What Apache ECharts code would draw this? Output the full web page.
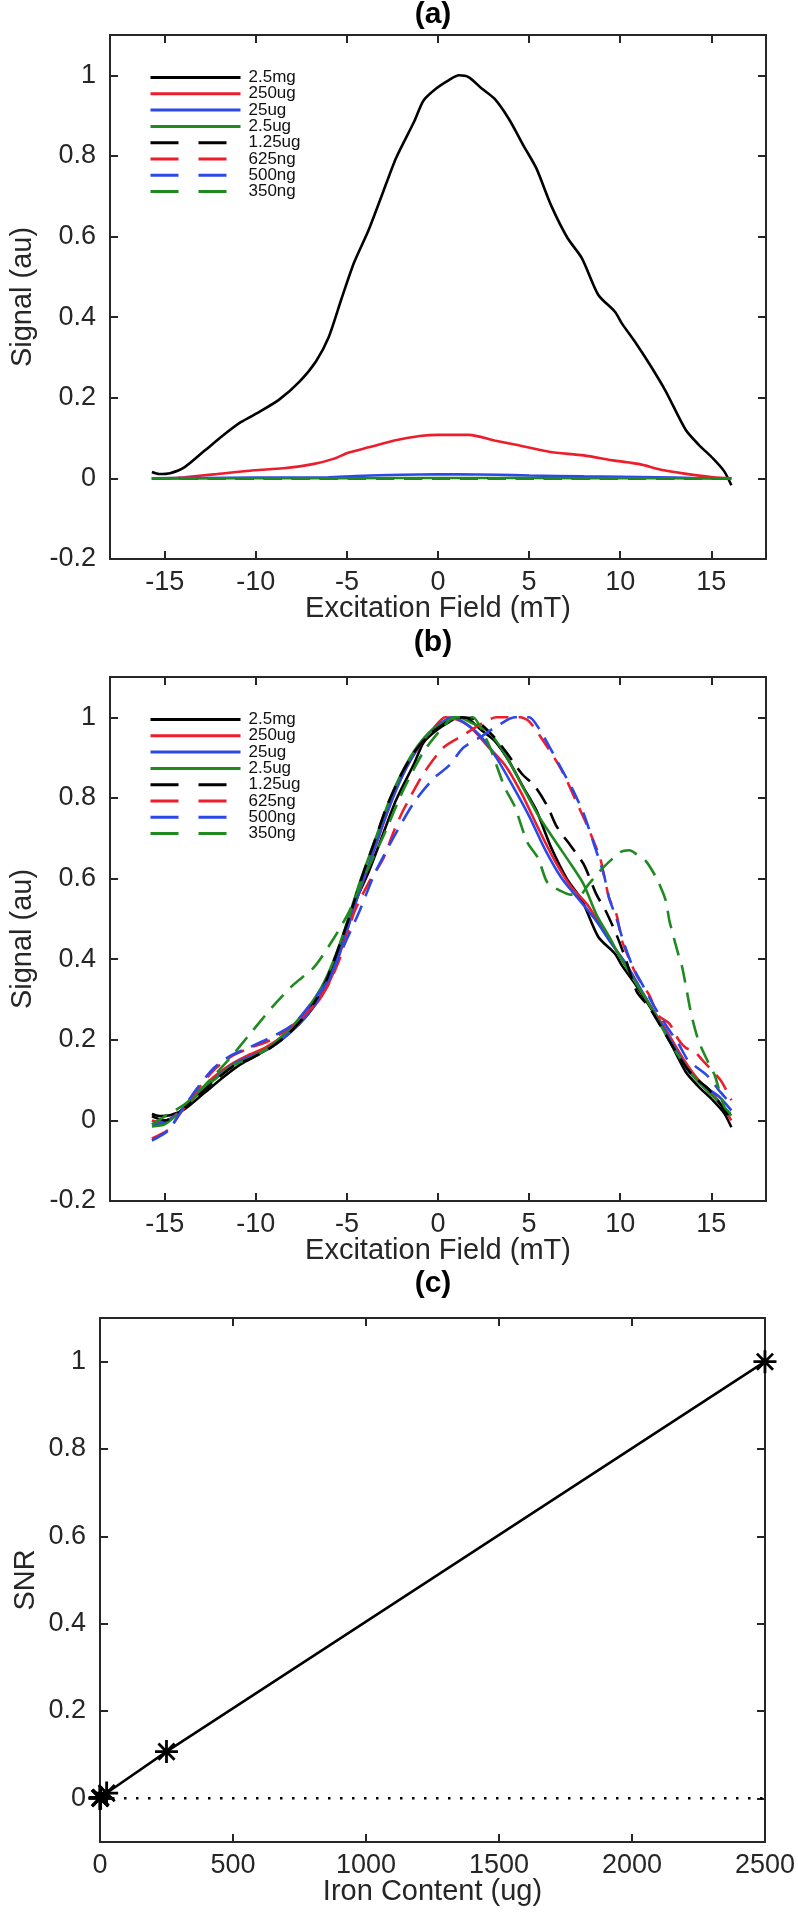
<!DOCTYPE html>
<html>
<head>
<meta charset="utf-8">
<script src="https://cdn.jsdelivr.net/npm/echarts@6/dist/echarts.min.js"></script>
<style>
html,body{margin:0;padding:0;background:#fff;}
#chart{width:798px;height:1914px;}
</style>
</head>
<body>
<div id="chart"></div>
<script>
// ---------- DATA ----------
var seriesNames = ['2.5mg','250ug','25ug','2.5ug','1.25ug','625ng','500ng','350ng'];
var seriesColors = ['#000000','#ee1d2c','#2b48e8','#1f8a1f','#000000','#ee1d2c','#2b48e8','#1f8a1f'];
var seriesDashed = [false,false,false,false,true,true,true,true];
var fieldTicks = [-15,-10,-5,0,5,10,15];
var signalTicks = [-0.2,0,0.2,0.4,0.6,0.8,1];
var snrTicks = [0,0.2,0.4,0.6,0.8,1];
var ironTicks = [0,500,1000,1500,2000,2500];

// panel (a) / (b): 2.5mg (max = 1, identical raw & normalized)
var sig2p5mg = [[-15.7,0.016],[-15.3,0.011],[-14.7,0.013],[-13.9,0.028],[-12.8,0.069],[-11.7,0.11],[-10.8,0.14],[-9.8,0.165],[-8.7,0.196],[-7.6,0.24],[-6.7,0.29],[-6.0,0.35],[-5.3,0.445],[-4.6,0.536],[-3.8,0.617],[-3.1,0.70],[-2.3,0.795],[-1.3,0.886],[-0.8,0.937],[-0.1,0.967],[0.6,0.988],[1.15,1.0],[1.7,0.995],[2.4,0.967],[3.1,0.942],[3.9,0.891],[4.7,0.825],[5.4,0.769],[6.2,0.678],[7.1,0.597],[7.9,0.546],[8.8,0.455],[9.7,0.414],[10.1,0.384],[10.9,0.333],[11.7,0.277],[12.5,0.216],[13.6,0.12],[14.3,0.084],[15.1,0.049],[15.7,0.018],[16.1,-0.017]];

// panel (a): raw signals of the smaller samples
var raw250ug = [[-15.7,0],[-14.5,0.001],[-13.9,0.003],[-12.3,0.01],[-10.1,0.02],[-8.5,0.025],[-6.8,0.036],[-5.7,0.049],[-4.9,0.064],[-3.8,0.077],[-2.4,0.094],[-1.0,0.105],[0.05,0.108],[1.7,0.108],[3.1,0.094],[4.2,0.084],[6.1,0.066],[8.0,0.057],[9.7,0.044],[11.0,0.036],[12.4,0.02],[14.1,0.008],[15.1,0.003],[16.1,0]];
var raw25ug = [[-15.7,0],[-13,0.001],[-10,0.002],[-6,0.003],[-4.5,0.006],[-2,0.009],[0,0.01],[1,0.01],[3.3,0.009],[5,0.007],[8,0.005],[10,0.004],[12,0.003],[14,0.001],[16.1,0]];
var raw2p5ug = [[-15.7,0],[-5,0.0005],[1,0.001],[8,0.0005],[16.1,0]];
var raw1p25ug = [[-15.7,0],[1.5,0.0005],[16.1,0]];
var raw625ng = [[-15.7,0],[3.5,0.0003],[16.1,0]];
var raw500ng = [[-15.7,0],[4.5,0.0002],[16.1,0]];
var raw350ng = [[-15.7,0],[1,0.0001],[16.1,0]];

// panel (b): normalized signals
var nrm250ug = [[-15.7,0.0],[-15.2,-0.005],[-14.5,0.01],[-13.5,0.05],[-12.5,0.10],[-11.5,0.135],[-10.5,0.16],[-9.5,0.18],[-8.5,0.21],[-7.5,0.25],[-6.5,0.30],[-5.8,0.36],[-5.2,0.44],[-4.6,0.53],[-3.9,0.62],[-3.2,0.71],[-2.5,0.80],[-1.8,0.87],[-1.0,0.93],[-0.3,0.97],[0.4,1.0],[1.0,0.995],[1.8,0.975],[2.7,0.93],[3.7,0.88],[4.6,0.81],[5.5,0.725],[6.4,0.645],[7.3,0.58],[8.2,0.535],[9.1,0.47],[9.8,0.42],[10.5,0.37],[11.5,0.295],[12.5,0.225],[13.5,0.15],[14.3,0.1],[15.2,0.06],[16.1,0.0]];
var nrm25ug = [[-15.7,-0.01],[-15.0,-0.005],[-14.2,0.02],[-13.2,0.065],[-12.2,0.105],[-11.2,0.14],[-10.2,0.16],[-9.2,0.18],[-8.2,0.215],[-7.2,0.26],[-6.3,0.32],[-5.6,0.39],[-5.0,0.47],[-4.3,0.57],[-3.6,0.66],[-2.9,0.75],[-2.1,0.84],[-1.3,0.91],[-0.5,0.96],[0.3,0.99],[0.8,1.0],[1.5,0.985],[2.3,0.955],[3.2,0.9],[4.1,0.83],[5.0,0.755],[5.9,0.67],[6.8,0.6],[7.7,0.55],[8.6,0.5],[9.5,0.44],[10.3,0.39],[11.2,0.32],[12.1,0.25],[13.0,0.18],[13.8,0.12],[14.6,0.085],[15.4,0.06],[16.1,0.025]];
var nrm2p5ug = [[-15.7,-0.015],[-15.0,-0.01],[-14.3,0.015],[-13.3,0.06],[-12.3,0.1],[-11.3,0.135],[-10.3,0.155],[-9.3,0.18],[-8.3,0.22],[-7.3,0.27],[-6.4,0.33],[-5.7,0.40],[-5.0,0.49],[-4.3,0.59],[-3.5,0.69],[-2.7,0.79],[-1.9,0.87],[-1.1,0.93],[-0.3,0.97],[0.5,0.99],[1.1,1.0],[1.9,0.985],[2.75,0.965],[3.66,0.91],[4.56,0.835],[5.46,0.76],[6.4,0.695],[7.3,0.635],[8.0,0.585],[8.7,0.51],[9.4,0.455],[10.0,0.405],[10.8,0.345],[11.7,0.28],[12.6,0.205],[13.5,0.14],[14.4,0.09],[15.3,0.05],[16.1,0.012]];
var nrm1p25ug = [[-15.7,0.01],[-15.0,0.0],[-14.2,0.02],[-13.2,0.06],[-12.2,0.1],[-11.2,0.135],[-10.2,0.155],[-9.2,0.18],[-8.2,0.215],[-7.2,0.265],[-6.3,0.33],[-5.6,0.41],[-4.9,0.5],[-4.2,0.6],[-3.5,0.69],[-2.8,0.78],[-2.0,0.86],[-1.2,0.92],[-0.4,0.96],[0.4,0.985],[1.0,1.0],[2.0,0.995],[3.1,0.95],[3.8,0.91],[4.6,0.86],[5.3,0.83],[6.0,0.78],[6.5,0.73],[7.3,0.68],[8.0,0.635],[8.7,0.56],[9.2,0.52],[9.8,0.46],[10.3,0.40],[10.9,0.32],[11.6,0.28],[12.4,0.22],[13.2,0.16],[14.0,0.11],[14.8,0.08],[15.5,0.04],[16.1,0.0]];
var nrm625ng = [[-15.7,-0.045],[-14.8,-0.023],[-14.2,0.014],[-13.3,0.07],[-12.3,0.125],[-11.3,0.16],[-10.3,0.18],[-9.3,0.197],[-8.3,0.225],[-7.5,0.255],[-6.8,0.286],[-6.1,0.33],[-5.4,0.40],[-4.6,0.516],[-3.8,0.59],[-3.0,0.65],[-2.4,0.72],[-1.9,0.77],[-0.8,0.86],[0.3,0.925],[1.4,0.956],[2.5,0.987],[3.2,1.0],[4.5,1.0],[5.0,0.99],[5.8,0.94],[6.7,0.876],[7.1,0.84],[7.8,0.77],[8.2,0.73],[8.9,0.65],[9.1,0.61],[9.4,0.55],[9.8,0.51],[10.1,0.445],[10.5,0.40],[10.9,0.36],[11.6,0.31],[12.1,0.26],[12.7,0.24],[13.2,0.2],[13.6,0.18],[14.1,0.17],[14.5,0.15],[15.5,0.1],[16.1,0.05]];
var nrm500ng = [[-15.7,-0.05],[-14.8,-0.025],[-14.2,0.015],[-13.3,0.075],[-12.3,0.13],[-11.4,0.16],[-10.4,0.18],[-9.0,0.21],[-7.9,0.24],[-6.8,0.30],[-6.0,0.35],[-5.2,0.43],[-4.3,0.52],[-3.5,0.61],[-2.4,0.705],[-1.3,0.79],[-0.2,0.85],[0.6,0.88],[1.4,0.925],[2.5,0.956],[3.3,0.98],[4.2,1.0],[5.0,1.0],[5.5,0.975],[6.2,0.92],[6.8,0.87],[7.4,0.82],[8.0,0.76],[8.6,0.68],[9.1,0.61],[9.4,0.55],[9.8,0.5],[10.2,0.44],[10.7,0.38],[11.3,0.33],[11.9,0.28],[12.6,0.23],[13.2,0.19],[13.7,0.15],[14.1,0.135],[14.8,0.11],[15.5,0.07],[16.1,0.04]];
var nrm350ng = [[-15.7,-0.01],[-15.0,0.01],[-13.9,0.04],[-12.8,0.087],[-11.5,0.15],[-10.4,0.21],[-9.0,0.286],[-7.9,0.338],[-6.8,0.38],[-5.7,0.453],[-4.9,0.516],[-4.1,0.6],[-3.0,0.705],[-1.9,0.82],[-0.8,0.914],[0.3,0.977],[0.9,1.0],[1.9,1.0],[2.6,0.95],[2.9,0.92],[3.66,0.826],[4.2,0.78],[4.9,0.69],[5.5,0.65],[6.0,0.59],[6.7,0.57],[7.3,0.56],[7.8,0.56],[8.25,0.585],[9.06,0.627],[10.0,0.665],[10.5,0.67],[10.9,0.66],[11.4,0.644],[12.0,0.6],[12.5,0.545],[12.7,0.495],[13.2,0.41],[13.4,0.38],[13.7,0.31],[13.9,0.263],[14.3,0.197],[14.8,0.147],[15.2,0.11],[15.7,0.035],[16.1,0.015]];

// panel (c)
var ironContentUg = [2500, 250, 25, 2.5, 1.25, 0.625, 0.5, 0.35];
var snrValues = [1, 0.107, 0.012, 0.002, 0.001, 0.0005, 0.0004, 0.0003];
var zeroLineX = [0, 2500];
var zeroLineY = [0, 0];

var rawSets = [sig2p5mg, raw250ug, raw25ug, raw2p5ug, raw1p25ug, raw625ng, raw500ng, raw350ng];
var nrmSets = [sig2p5mg, nrm250ug, nrm25ug, nrm2p5ug, nrm1p25ug, nrm625ng, nrm500ng, nrm350ng];

// ---------- LAYOUT ----------
var FONT = '"Liberation Sans", Arial, Helvetica, sans-serif';
var INK = '#262626';
var PLOT_LEFT = 100, PLOT_W = 666, PLOT_H = 524;
var tops = [35, 677, 1318];
var titleY = [15, 643, 1284];
var DASH = [18, 10];

var grids = tops.map(function (t) { return { left: PLOT_LEFT, top: t, width: PLOT_W, height: PLOT_H }; });
function plainNum(v) { return String(Math.round(v * 1000) / 1000); }

function mainX(gi, min, max, ticks, name) {
  return {
    type: 'value', gridIndex: gi, min: min, max: max, position: 'bottom',
    name: name, nameLocation: 'middle', nameGap: 35, nameMoveOverlap: false,
    nameTextStyle: { fontSize: 29, color: INK, fontFamily: FONT },
    axisLine: { show: true, onZero: false, lineStyle: { color: INK, width: 2 } },
    axisTick: { show: true, inside: true, length: 8, lineStyle: { color: INK, width: 2 }, customValues: ticks },
    axisLabel: { show: true, fontSize: 27, color: INK, fontFamily: FONT, margin: 10, customValues: ticks, formatter: plainNum },
    splitLine: { show: false }
  };
}
function topX(gi, min, max, ticks) {
  return {
    type: 'value', gridIndex: gi, min: min, max: max, position: 'top',
    axisLine: { show: true, onZero: false, lineStyle: { color: INK, width: 2 } },
    axisTick: { show: true, inside: true, length: 8, lineStyle: { color: INK, width: 2 }, customValues: ticks },
    axisLabel: { show: false }, splitLine: { show: false }
  };
}
function mainY(gi, min, max, ticks, name, gap) {
  return {
    type: 'value', gridIndex: gi, min: min, max: max, position: 'left',
    name: name, nameLocation: 'middle', nameGap: gap, nameRotate: 90, nameMoveOverlap: false,
    nameTextStyle: { fontSize: 29, color: INK, fontFamily: FONT },
    axisLine: { show: true, onZero: false, lineStyle: { color: INK, width: 2 } },
    axisTick: { show: true, inside: true, length: 8, lineStyle: { color: INK, width: 2 }, customValues: ticks },
    axisLabel: { show: true, fontSize: 27, color: INK, fontFamily: FONT, margin: 14, customValues: ticks, formatter: plainNum },
    splitLine: { show: false }
  };
}
function rightY(gi, min, max, ticks) {
  return {
    type: 'value', gridIndex: gi, min: min, max: max, position: 'right',
    axisLine: { show: true, onZero: false, lineStyle: { color: INK, width: 2 } },
    axisTick: { show: true, inside: true, length: 8, lineStyle: { color: INK, width: 2 }, customValues: ticks },
    axisLabel: { show: false }, splitLine: { show: false }
  };
}

var xAxes = [
  mainX(0, -18, 18, fieldTicks, 'Excitation Field (mT)'),
  mainX(1, -18, 18, fieldTicks, 'Excitation Field (mT)'),
  mainX(2, 0, 2500, ironTicks, 'Iron Content (ug)'),
  topX(0, -18, 18, fieldTicks),
  topX(1, -18, 18, fieldTicks),
  topX(2, 0, 2500, ironTicks)
];
var yAxes = [
  mainY(0, -0.2, 1.1, signalTicks, 'Signal (au)', 73),
  mainY(1, -0.2, 1.1, signalTicks, 'Signal (au)', 73),
  mainY(2, -0.1, 1.1, snrTicks, 'SNR', 60),
  rightY(0, -0.2, 1.1, signalTicks),
  rightY(1, -0.2, 1.1, signalTicks),
  rightY(2, -0.1, 1.1, snrTicks)
];

var series = [];
function addCurves(sets, gi) {
  sets.forEach(function (d, i) {
    series.push({
      type: 'line', name: seriesNames[i], xAxisIndex: gi, yAxisIndex: gi,
      data: d, symbol: 'none', showSymbol: false, smooth: 0.25,
      clip: false,
      lineStyle: { color: seriesColors[i], width: 2.6, type: seriesDashed[i] ? DASH : 'solid' },
      itemStyle: { color: seriesColors[i] },
      z: 2 + i
    });
  });
}
addCurves(rawSets, 0);
addCurves(nrmSets, 1);

series.push({
  type: 'line', name: 'zero', xAxisIndex: 2, yAxisIndex: 2,
  data: zeroLineX.map(function (x, i) { return [x, zeroLineY[i]]; }),
  symbol: 'none', lineStyle: { color: '#000', width: 2.5, type: [2.5, 9.5] }, z: 1
});
var STAR = 'path://M10 0 L10 20 M0 10 L20 10 M3 3 L17 17 M3 17 L17 3';
series.push({
  type: 'line', name: 'SNR', xAxisIndex: 2, yAxisIndex: 2,
  data: ironContentUg.map(function (x, i) { return [x, snrValues[i]]; }),
  symbol: STAR, symbolSize: 23, showSymbol: true, clip: false,
  lineStyle: { color: '#000', width: 2.5 },
  itemStyle: { color: 'rgba(0,0,0,0)', borderColor: '#000', borderWidth: 2.8 },
  z: 5
});

function legendFor(top) {
  return {
    show: true, orient: 'vertical', left: 149, top: top, padding: 0,
    itemWidth: 90, itemHeight: 14, itemGap: -0.7,
    selectedMode: false,
    itemStyle: { color: 'rgba(0,0,0,0)', borderWidth: 0, opacity: 0 },
    textStyle: { fontSize: 17, color: '#111', fontFamily: FONT, lineHeight: 14, padding: [0, 0, 0, 3] },
    data: seriesNames.map(function (n, i) {
      return { name: n, itemStyle: { opacity: 0 }, lineStyle: { width: 3, type: seriesDashed[i] ? [28, 20] : 'solid' } };
    })
  };
}

var titleText = ['(a)', '(b)', '(c)'];
var graphic = titleY.map(function (y, i) {
  return {
    type: 'text', x: PLOT_LEFT + PLOT_W / 2, y: y,
    style: { text: titleText[i], fontSize: 30, fontWeight: 'bold', fontFamily: FONT, fill: '#000', align: 'center', verticalAlign: 'middle' }
  };
});

var chart = echarts.init(document.getElementById('chart'), null, { renderer: 'canvas' });
chart.setOption({
  animation: false,
  backgroundColor: '#fff',
  grid: grids,
  xAxis: xAxes,
  yAxis: yAxes,
  legend: [legendFor(69), legendFor(711)],
  graphic: graphic,
  series: series
});
</script>
</body>
</html>
